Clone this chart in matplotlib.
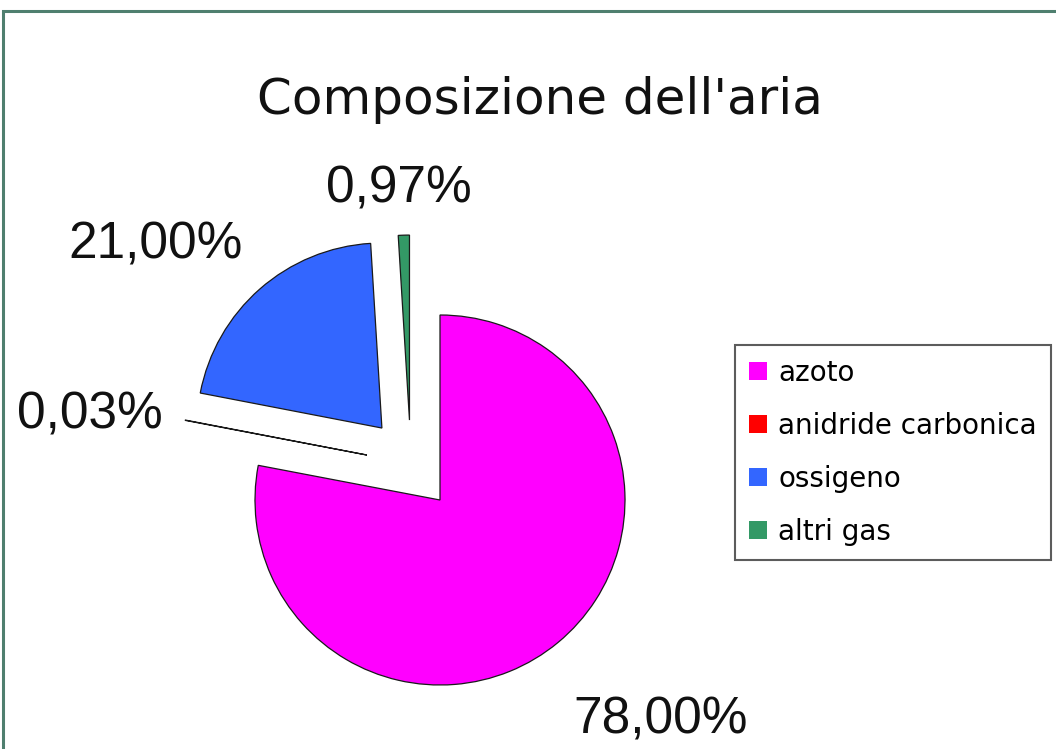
import matplotlib
matplotlib.use("Agg")
import matplotlib.pyplot as plt
from matplotlib.patches import Rectangle

# ---- data ----
title = "Composizione dell'aria"
categories = ["azoto", "anidride carbonica", "ossigeno", "altri gas"]
values = [78.00, 0.03, 21.00, 0.97]
colors = ["#ff00ff", "#ff0000", "#3366ff", "#339966"]

# ---- layout / style ----
# displacement of each slice from the pie centre (in radius units)
slice_offset = [(0.0, 0.0), (-0.395, 0.243), (-0.314, 0.389), (-0.165, 0.432)]
label_pos = [(1.19, -1.19), (-1.89, 0.46), (-1.54, 1.38), (-0.22, 1.68)]

W, H, DPI = 1056, 749, 100
fig = plt.figure(figsize=(W / DPI, H / DPI), dpi=DPI)
fig.patch.set_facecolor("white")

# outer frame (only top/left edges visible)
fig.patches.append(Rectangle((3 / W, -0.1), 1.2, 1 - 11 / H + 0.1,
                             transform=fig.transFigure, fill=False,
                             edgecolor="#4f7f6f", linewidth=2.2))

ax = fig.add_axes([0, 0, 1, 1])
cx, cy, r = 440, H - 500, 185.0
wedges, _ = ax.pie(values, colors=colors, startangle=90,
                   counterclock=False, radius=1.0,
                   wedgeprops=dict(edgecolor="#1a1a1a", linewidth=0.9))
for w, (dx, dy) in zip(wedges, slice_offset):
    c = w.center
    w.set_center((c[0] + dx, c[1] + dy))
ax.set_xlim(-cx / r, (W - cx) / r)
ax.set_ylim(-cy / r, (H - cy) / r)
ax.set_aspect("auto")
ax.axis("off")

for v, (lx, ly) in zip(values, label_pos):
    ax.text(lx, ly, f"{v:.2f}%".replace(".", ","), ha="center", va="center",
            fontsize=37, family="Liberation Sans", color="#111111")

fig.text(540 / W, 1 - 100 / H, title, ha="center", va="center",
         fontsize=36, family="DejaVu Sans", color="#111111")

leg = fig.legend(wedges, categories, loc="upper left",
                 bbox_to_anchor=(735 / W, 1 - 345 / H),
                 frameon=True, fancybox=False, edgecolor="#333333",
                 prop=dict(family="DejaVu Sans", size=20),
                 handlelength=0.65, handleheight=0.65, handletextpad=0.4,
                 labelspacing=0.9, borderpad=0.5, borderaxespad=0)
leg.get_frame().set_linewidth(1.5)
for h in leg.legend_handles:
    h.set_edgecolor("none")

fig.savefig("out.png", dpi=DPI, facecolor="white")
